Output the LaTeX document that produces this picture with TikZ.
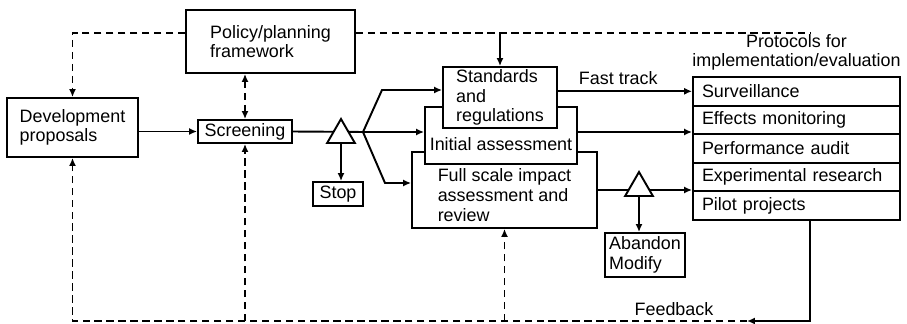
\documentclass[tikz,border=0pt]{standalone}
\usepackage{fontspec}
\setmainfont{Liberation Sans}
\usetikzlibrary{arrows.meta,shapes.geometric}

\begin{document}
\begin{tikzpicture}[x=0.02cm,y=-0.02cm,
  every node/.style={font=\fontsize{10.2}{11.2}\selectfont},
  box/.style={draw,line width=1.1pt,fill=white,inner sep=0pt,align=left},
  row/.style={box,minimum width=4.14cm,minimum height=0.572cm,text width=3.78cm},
  gate/.style={draw,line width=1.1pt,fill=white,regular polygon,regular polygon sides=3,minimum size=0.64cm,inner sep=0pt},
  flow/.style={line width=1.1pt,-{Latex[length=4.5pt,width=4pt]}},
  both/.style={line width=1.1pt,{Latex[length=4.5pt,width=4pt]}-{Latex[length=4.5pt,width=4pt]}},
  link/.style={line width=1.1pt},
  fb/.style={line width=1.1pt,dash pattern=on 4.2pt off 2.6pt}]
\useasboundingbox (0,0) rectangle (907,324);

\node[box,minimum width=3.38cm,minimum height=1.26cm] (policy) at (270.5,41.5) {Policy/planning\\framework};
\node[box,minimum width=2.62cm,minimum height=1.18cm] (dev) at (72.5,127.5) {Development\\proposals};
\node[box,minimum width=1.88cm,minimum height=0.46cm] (screen) at (245,131.5) {Screening};
\node[box,minimum width=1.00cm,minimum height=0.48cm] (stop) at (338,194) {Stop};

% the three routes, drawn back to front
\node[box,minimum width=3.70cm,minimum height=1.52cm] (full) at (504.5,190) {};
\node[align=left,inner sep=0pt] (fulltxt) at (504.5,195) {Full scale impact\\assessment and\\review};
\node[box,minimum width=3.04cm,minimum height=1.14cm] (initial) at (501,135.5) {};
\node[above=0.28cm,inner sep=0pt] (initialtxt) at (initial.south) {Initial assessment};
\node[box,minimum width=2.28cm,minimum height=1.22cm] (standards) at (500,97.5) {Standards\\and\\regulations};

\node[box,minimum width=1.60cm,minimum height=0.88cm] (abandon) at (645,255) {Abandon\\Modify};

% protocols
\node[row] (surv) at (796.5,91.3) {Surveillance};
\node[row] (effects) at (796.5,119.9) {Effects monitoring};
\node[row] (perf) at (796.5,148.5) {Performance audit};
\node[row] (expt) at (796.5,177.1) {Experimental research};
\node[row] (pilot) at (796.5,205.7) {Pilot projects};
\node[above=0.1cm,inner sep=0pt,align=center] (protlabel) at (surv.north) {Protocols for\\implementation/evaluation};

\coordinate (split) at (363,132); % fork after screening
\coordinate (k1) at (382,90);
\coordinate (k2) at (385,183);
\coordinate (topend) at (810,33);
\coordinate (fbcorner) at (810,321);
\coordinate (fbend) at (747,321);

% solid flow
\draw[flow] (dev.east |- screen.west) -- (screen.west);
\draw[link] (screen.east) -- (split);
\draw[flow] (split) -- (k1) -- (k1 -| standards.west);
\draw[flow] (split) -- (split -| initial.west);
\draw[flow] (split) -- (k2) -- (k2 -| full.west);
\draw[flow] (surv.west -| standards.east) -- node[above,pos=0.45] (fasttrack) {Fast track} (surv.west);
\draw[flow] (split -| initial.east) -- (split -| surv.west);
\draw[flow] (full.east) -- (full.east -| expt.west);

% decision points
\node[gate] (gate1) at (341,135) {};
\node[gate] (gate2) at (639,188) {};
\draw[flow] (gate1.south) -- (gate1.south |- stop.north);
\draw[flow] (gate2.south) -- (gate2.south |- abandon.north);

% policy links
\draw[fb] (policy.east |- topend) -- (topend);
\draw[fb,flow] (policy.west |- topend) -| (dev.north);
\draw[fb,both] (screen.north |- policy.south) -- (screen.north);
\draw[flow] (standards.north |- topend) -- (standards.north);

% feedback
\draw[flow] (pilot.south -| fbcorner) -- (fbcorner) -- (fbend);
\node[above=0.1cm,inner sep=0pt] (fblabel) at (674,321) {Feedback};
\draw[fb,flow] (fbend) -| (dev.south);
\draw[fb,flow] (screen.south |- fbend) -- (screen.south);
\draw[fb,flow] (full.south |- fbend) -- (full.south);
\end{tikzpicture}
\end{document}
